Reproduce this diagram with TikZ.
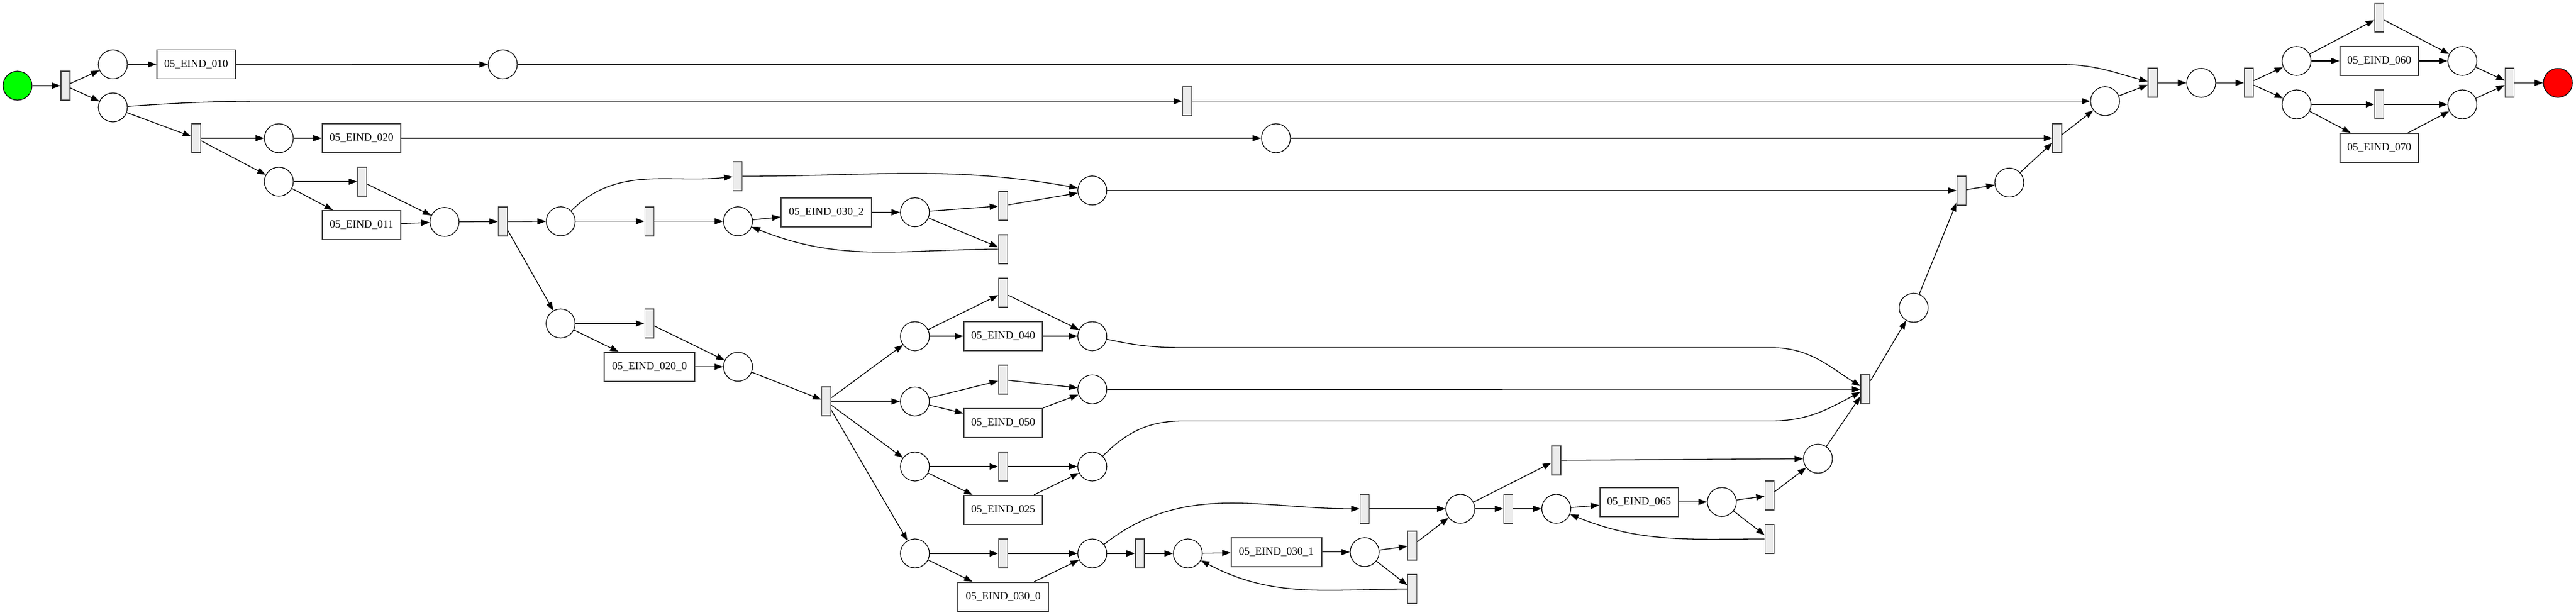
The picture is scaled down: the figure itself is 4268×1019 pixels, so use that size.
\documentclass[tikz,border=0pt]{standalone}
\usepackage{fontspec}
\setmainfont{Liberation Serif}
\usetikzlibrary{arrows.meta}
\definecolor{tfill}{RGB}{236,236,236}
\definecolor{bord}{RGB}{64,64,64}
\definecolor{startgreen}{RGB}{0,255,0}
\definecolor{endred}{RGB}{255,0,0}
\begin{document}
\begin{tikzpicture}[x=1pt,y=-1pt,
  place/.style={circle,draw=black,line width=1.2pt,minimum size=48pt,inner sep=0pt},
  trans/.style={rectangle,draw=bord,fill=tfill,line width=1.6pt,minimum width=15pt,minimum height=48pt,inner sep=0pt},
  task/.style={rectangle,draw=bord,line width=1.8pt,minimum width=130pt,minimum height=48pt,inner sep=0pt,font=\fontsize{18}{20}\selectfont},
  wtask/.style={task,minimum width=150pt},
  arc/.style={-{Triangle[length=14pt,width=10pt]},line width=1.3pt}]
\useasboundingbox (0,0) rectangle (4268,1019);

% ---- places, transitions, tasks
\node[place,fill=startgreen] (start) at (29,142) {};
\node[trans] (t1) at (108.5,142) {};
\node[place] (p1) at (187,106.7) {};
\node[place] (p2) at (187,178) {};
\node[task] (b010) at (325,106.5) {05\_EIND\_010};
\node[place] (p3) at (833,106.7) {};
\node[trans] (t2) at (325,229) {};
\node[place] (p4) at (462,229) {};
\node[task] (b020) at (599,229) {05\_EIND\_020};
\node[place] (p5) at (462,301) {};
\node[trans] (t3) at (600,301) {};
\node[task] (b011) at (599,373) {05\_EIND\_011};
\node[place] (p6) at (736.5,367.7) {};
\node[trans] (t4) at (833,367) {};
\node[place] (p7) at (929,366.7) {};
\node[trans] (t5) at (1075.8,366.7) {};
\node[trans] (t6) at (1222,292) {};
\node[place] (p8) at (1222.7,366.7) {};
\node[wtask] (b0302) at (1369,352) {05\_EIND\_030\_2};
\node[place] (p9) at (1515.8,351.7) {};
\node[trans] (t7) at (1662,341) {};
\node[trans] (t8) at (1662,413) {};
\node[place] (p10) at (1809.7,315.7) {};
\node[place] (p11) at (928.8,536) {};
\node[trans] (t9) at (1075.8,536) {};
\node[wtask] (b0200) at (1076,607.7) {05\_EIND\_020\_0};
\node[place] (p12) at (1222.7,607.7) {};
\node[trans] (t10) at (1369,665.2) {};
\node[place] (p13) at (1515.8,557) {};
\node[trans] (t040) at (1662,485) {};
\node[task] (b040) at (1662,557) {05\_EIND\_040};
\node[place] (p14) at (1809.7,557) {};
\node[place] (p15) at (1515.8,665.2) {};
\node[trans] (t050) at (1662,629.2) {};
\node[task] (b050) at (1662,701) {05\_EIND\_050};
\node[place] (p16) at (1809.7,645.2) {};
\node[place] (p17) at (1515.8,773) {};
\node[trans] (t025) at (1662,773) {};
\node[task] (b025) at (1662,844.8) {05\_EIND\_025};
\node[place] (p18) at (1809.7,773) {};
\node[place] (p19) at (1515.8,917) {};
\node[trans] (t0300) at (1662,917) {};
\node[wtask] (b0300) at (1662,988.8) {05\_EIND\_030\_0};
\node[place] (p20) at (1809.7,917) {};
\node[trans] (t11) at (1888.5,917) {};
\node[place] (p21) at (1968,917) {};
\node[wtask] (b0301) at (2114.7,914.8) {05\_EIND\_030\_1};
\node[place] (p22) at (2261,914.8) {};
\node[trans] (t12) at (2340,904) {};
\node[trans] (t13) at (2340,976) {};
\node[trans] (t14) at (2261,843) {};
\node[place] (p23) at (2419.5,843) {};
\node[trans] (t15) at (2499,843) {};
\node[trans] (t16) at (2578.5,762.7) {};
\node[place] (p25) at (2578.5,843) {};
\node[task] (b065) at (2715.6,831.7) {05\_EIND\_065};
\node[place] (p26) at (2852.8,831.7) {};
\node[trans] (te) at (2932,821) {};
\node[trans] (tf) at (2932,893) {};
\node[place] (p24) at (3012,760) {};
\node[trans] (td) at (3090.6,645) {};
\node[place] (pc) at (3170.6,510) {};
\node[trans] (ta) at (3249.8,315.7) {};
\node[place] (pb) at (3329,302.5) {};
\node[trans] (Ty) at (3408.6,229) {};
\node[place] (Py) at (2114,229) {};
\node[trans] (tmid) at (1967,167.7) {};
\node[place] (Px) at (3487.7,167.7) {};
\node[trans] (Tj) at (3566.7,137.3) {};
\node[place] (Pj) at (3647,137.3) {};
\node[trans] (Ts) at (3726,137.3) {};
\node[place] (Pu) at (3805,101) {};
\node[place] (Pl) at (3805,173) {};
\node[trans] (t060) at (3942,29) {};
\node[task] (b060) at (3942,101) {05\_EIND\_060};
\node[place] (Pu2) at (4079.7,101) {};
\node[trans] (t070) at (3942,173) {};
\node[task] (b070) at (3942,245) {05\_EIND\_070};
\node[place] (Pl2) at (4079.7,173) {};
\node[trans] (Tend) at (4158,137.3) {};
\node[place,fill=endred] (end) at (4238,137.3) {};

% ---- bend points
\coordinate (c3a) at (3412,106.7);
\coordinate (c2a) at (456,167.7);
\coordinate (c14a) at (1960,576);
\coordinate (c14b) at (2935,576);
\coordinate (c18a) at (1960,697.5);
\coordinate (c18b) at (2935,697.5);

% ---- arcs
\draw[arc] (start) -- (t1);
\draw[arc] (t1) -- (p1);
\draw[arc] (t1) -- (p2);
\draw[arc] (p1) -- (b010);
\draw[arc] (b010) -- (p3);
\draw[arc] (p3) -- (c3a) to[out=0,in=165] (Tj);
\draw[arc] (p2) to[out=4,in=180] (c2a) -- (tmid);
\draw[arc] (p2) -- (t2);
\draw[arc] (t2) -- (p4);
\draw[arc] (t2) -- (p5);
\draw[arc] (p4) -- (b020);
\draw[arc] (b020) -- (Py);
\draw[arc] (Py) -- (Ty);
\draw[arc] (p5) -- (t3);
\draw[arc] (p5) -- (b011);
\draw[arc] (t3) -- (p6);
\draw[arc] (b011) -- (p6);
\draw[arc] (p6) -- (t4);
\draw[arc] (t4) -- (p7);
\draw[arc] (t4) -- (p11);
\draw[arc] (p7) -- (t5);
\draw[arc] (p7) to[out=45,in=186] (t6);
\draw[arc] (t6) to[out=0,in=170] (p10);
\draw[arc] (t5) -- (p8);
\draw[arc] (p8) -- (b0302);
\draw[arc] (b0302) -- (p9);
\draw[arc] (p9) -- (t7);
\draw[arc] (p9) -- (t8);
\draw[arc] (t7) -- (p10);
\draw[arc] (t8) to[out=180,in=-22] (p8);
\draw[arc] (p10) -- (ta);
\draw[arc] (p11) -- (t9);
\draw[arc] (p11) -- (b0200);
\draw[arc] (t9) -- (p12);
\draw[arc] (b0200) -- (p12);
\draw[arc] (p12) -- (t10);
\draw[arc] (t10) -- (p13);
\draw[arc] (t10) -- (p15);
\draw[arc] (t10) -- (p17);
\draw[arc] (t10) -- (p19);
\draw[arc] (p13) -- (t040);
\draw[arc] (p13) -- (b040);
\draw[arc] (t040) -- (p14);
\draw[arc] (b040) -- (p14);
\draw[arc] (p15) -- (t050);
\draw[arc] (p15) -- (b050);
\draw[arc] (t050) -- (p16);
\draw[arc] (b050) -- (p16);
\draw[arc] (p17) -- (t025);
\draw[arc] (p17) -- (b025);
\draw[arc] (t025) -- (p18);
\draw[arc] (b025) -- (p18);
\draw[arc] (p19) -- (t0300);
\draw[arc] (p19) -- (b0300);
\draw[arc] (t0300) -- (p20);
\draw[arc] (b0300) -- (p20);
\draw[arc] (p14) to[out=-12,in=180] (c14a) -- (c14b) to[out=0,in=148] (td);
\draw[arc] (p16) -- (td);
\draw[arc] (p18) to[out=45,in=180] (c18a) -- (c18b) to[out=0,in=-152] (td);
\draw[arc] (p20) -- (t11);
\draw[arc] (p20) to[out=38,in=180] (t14);
\draw[arc] (t11) -- (p21);
\draw[arc] (p21) -- (b0301);
\draw[arc] (b0301) -- (p22);
\draw[arc] (p22) -- (t12);
\draw[arc] (p22) -- (t13);
\draw[arc] (t13) to[out=180,in=-28] (p21);
\draw[arc] (t12) -- (p23);
\draw[arc] (t14) -- (p23);
\draw[arc] (p23) -- (t15);
\draw[arc] (p23) -- (t16);
\draw[arc] (t15) -- (p25);
\draw[arc] (t16) -- (p24);
\draw[arc] (p25) -- (b065);
\draw[arc] (b065) -- (p26);
\draw[arc] (p26) -- (te);
\draw[arc] (p26) -- (tf);
\draw[arc] (tf) to[out=180,in=-22] (p25);
\draw[arc] (te) -- (p24);
\draw[arc] (p24) -- (td);
\draw[arc] (td) -- (pc);
\draw[arc] (pc) -- (ta);
\draw[arc] (ta) -- (pb);
\draw[arc] (pb) -- (Ty);
\draw[arc] (Ty) -- (Px);
\draw[arc] (tmid) -- (Px);
\draw[arc] (Px) -- (Tj);
\draw[arc] (Tj) -- (Pj);
\draw[arc] (Pj) -- (Ts);
\draw[arc] (Ts) -- (Pu);
\draw[arc] (Ts) -- (Pl);
\draw[arc] (Pu) -- (t060);
\draw[arc] (Pu) -- (b060);
\draw[arc] (t060) -- (Pu2);
\draw[arc] (b060) -- (Pu2);
\draw[arc] (Pl) -- (t070);
\draw[arc] (Pl) -- (b070);
\draw[arc] (t070) -- (Pl2);
\draw[arc] (b070) -- (Pl2);
\draw[arc] (Pu2) -- (Tend);
\draw[arc] (Pl2) -- (Tend);
\draw[arc] (Tend) -- (end);
\end{tikzpicture}
\end{document}
